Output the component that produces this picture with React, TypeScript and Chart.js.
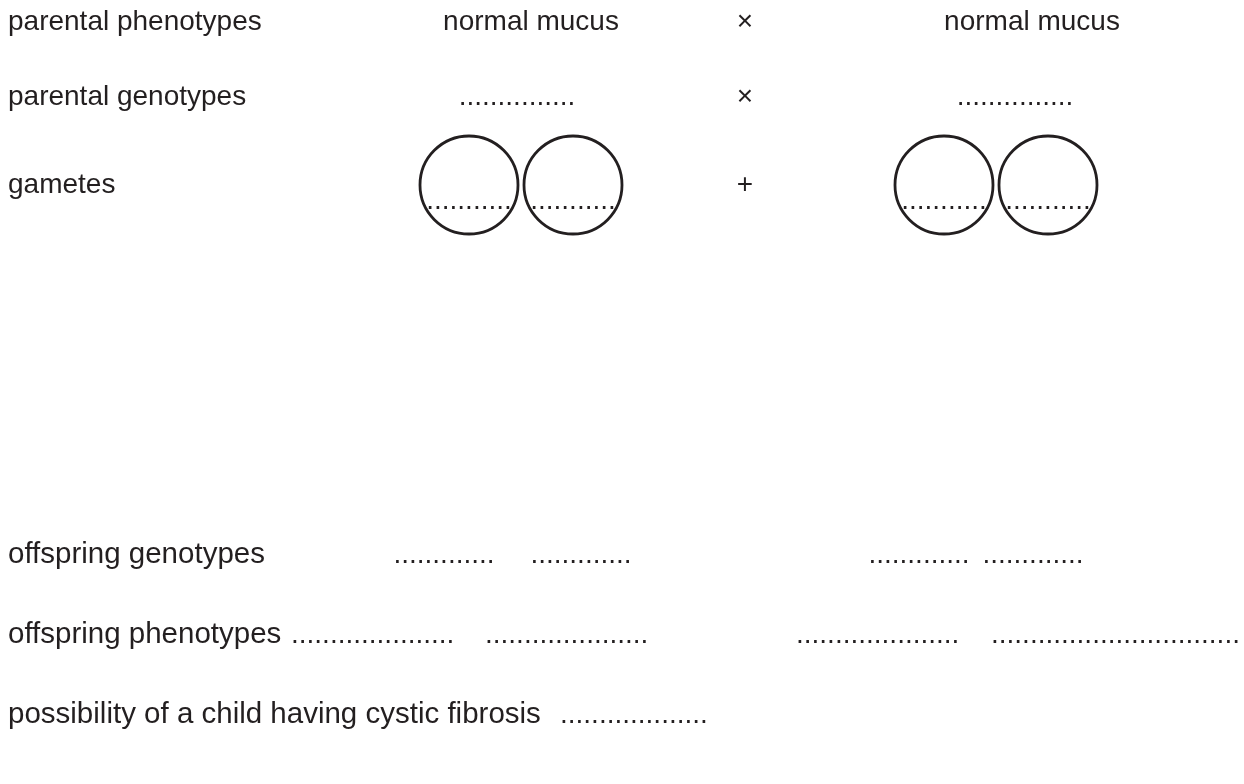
import React, { useEffect, useRef } from "react";
import { Chart, registerables } from "chart.js";

Chart.register(...registerables);

const WIDTH = 1244;
const HEIGHT = 784;
const INK = "#231f20";
const FAMILY = '"Liberation Sans", Arial, Helvetica, sans-serif';
const TOP_SIZE = 28;
const BOTTOM_SIZE = 29.5;

// Row labels (left column) and their vertical positions (layout units)
const rowLabels = [
  "parental phenotypes",
  "parental genotypes",
  "gametes",
  "offspring genotypes",
  "offspring phenotypes",
  "possibility of a child having cystic fibrosis",
];
const rowY = [22, 97, 185, 555, 635, 715];
const labelX = 8;

// Parents
const parentPhenotypes = ["normal mucus", "normal mucus"];
const parentPhenotypeX = [531, 1032];
const parentGenotypes = ["...............", "..............."];
const parentGenotypeX = [517, 1015];

// Cross signs per row (parental phenotypes, parental genotypes, gametes)
const crossSigns = ["×", "×", "+"];
const crossX = 745;

// Gametes (circles)
const gameteX = [469, 573, 944, 1048];
const gameteY = 185;
const gameteRadius = 49;
const gameteBlank = "...........";
const gameteBlankY = 201;

// Offspring genotypes blanks (centred)
const offspringGenotypeBlanks = [".............", ".............", ".............", "............."];
const offspringGenotypeX = [444, 581, 919, 1033];

// Offspring phenotypes blanks (left aligned)
const offspringPhenotypeBlanks = [
  ".....................",
  ".....................",
  ".....................",
  "................................",
];
const offspringPhenotypeX = [291, 485, 796, 991];

// Possibility blank
const possibilityBlank = "...................";
const possibilityBlankX = 560;

export default function App() {
  const ref = useRef<HTMLCanvasElement>(null);

  useEffect(() => {
    document.body.style.margin = "0";
    const canvas = ref.current;
    if (!canvas) return;

    const textPlugin = {
      id: "diagramText",
      afterDatasetsDraw(chart: any) {
        const { ctx, scales } = chart;
        const px = (v: number) => scales.x.getPixelForValue(v);
        const py = (v: number) => scales.y.getPixelForValue(v);
        ctx.save();
        ctx.fillStyle = INK;
        ctx.textBaseline = "middle";

        const put = (t: string, x: number, y: number, align: CanvasTextAlign, size: number) => {
          ctx.font = `${size}px ${FAMILY}`;
          ctx.textAlign = align;
          ctx.fillText(t, px(x), py(y));
        };

        rowLabels.forEach((l, i) => put(l, labelX, rowY[i], "left", i < 3 ? TOP_SIZE : BOTTOM_SIZE));
        parentPhenotypes.forEach((t, i) => put(t, parentPhenotypeX[i], rowY[0], "center", TOP_SIZE));
        parentGenotypes.forEach((t, i) => put(t, parentGenotypeX[i], rowY[1], "center", TOP_SIZE));
        crossSigns.forEach((t, i) => put(t, crossX, rowY[i], "center", TOP_SIZE));
        gameteX.forEach((x) => put(gameteBlank, x, gameteBlankY, "center", TOP_SIZE));
        offspringGenotypeBlanks.forEach((t, i) => put(t, offspringGenotypeX[i], rowY[3], "center", TOP_SIZE));
        offspringPhenotypeBlanks.forEach((t, i) => put(t, offspringPhenotypeX[i], rowY[4], "left", TOP_SIZE));
        put(possibilityBlank, possibilityBlankX, rowY[5], "left", TOP_SIZE);
        ctx.restore();
      },
    };

    const chart = new Chart(canvas, {
      type: "scatter",
      data: {
        datasets: [
          {
            data: gameteX.map((x) => ({ x, y: gameteY })),
            pointStyle: "circle",
            pointRadius: gameteRadius,
            pointHoverRadius: gameteRadius,
            borderColor: INK,
            borderWidth: 2.8,
            backgroundColor: "rgba(0,0,0,0)",
            clip: false,
          },
        ],
      },
      options: {
        animation: false,
        responsive: false,
        events: [],
        layout: { padding: 0, autoPadding: false },
        scales: {
          x: { type: "linear", min: 0, max: WIDTH, display: false },
          y: { type: "linear", min: 0, max: HEIGHT, reverse: true, display: false },
        },
        plugins: {
          legend: { display: false },
          tooltip: { enabled: false },
        },
      },
      plugins: [textPlugin],
    });
    return () => chart.destroy();
  }, []);

  return (
    <div style={{ width: WIDTH, height: HEIGHT, background: "#fff" }}>
      <canvas ref={ref} width={WIDTH} height={HEIGHT} style={{ display: "block" }} />
    </div>
  );
}
